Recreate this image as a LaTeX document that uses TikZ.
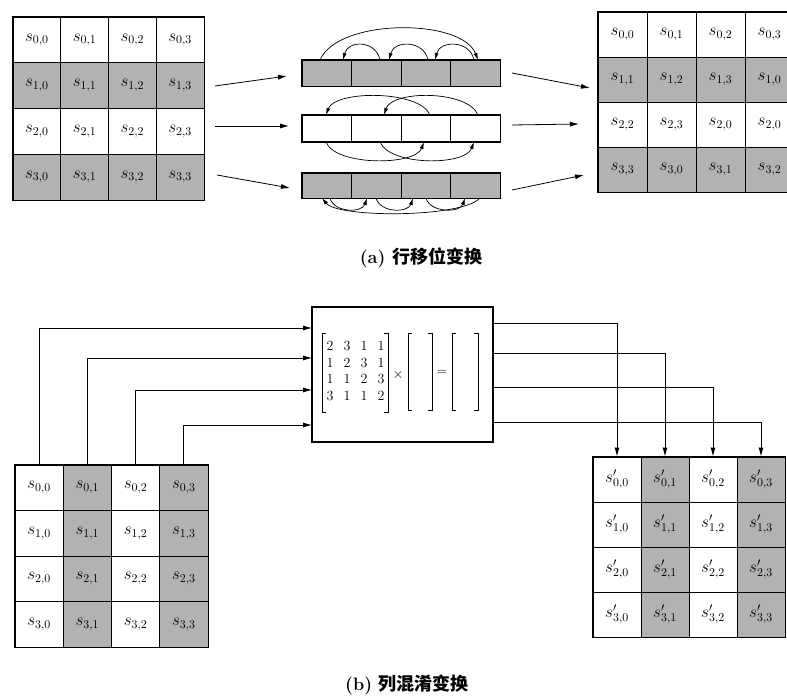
\RequirePackage{fix-cm}
\documentclass[tikz,border=0pt]{standalone}
\usepackage{fontspec}
\newfontfamily\cjk{Noto Sans CJK SC}
\usetikzlibrary{arrows.meta}
\begin{document}
\begin{tikzpicture}[x=1pt,y=-1pt,
  cellbase/.style={draw,line width=0.9pt,inner sep=0pt,font=\fontsize{17}{19}\selectfont},
  tlcell/.style={cellbase,minimum width=47.75pt,minimum height=45.75pt},
  trcell/.style={cellbase,minimum width=49pt,minimum height=45pt},
  blcell/.style={cellbase,minimum width=48.25pt,minimum height=45.5pt},
  brcell/.style={cellbase,minimum width=48pt,minimum height=45pt},
  barcell/.style={draw,line width=0.9pt,inner sep=0pt,minimum width=49.5pt,minimum height=26pt},
  outer/.style={line width=1.6pt},
  conn/.style={line width=0.8pt,-{Latex[length=9pt,width=5pt]}},
  arc/.style={line width=0.7pt,-{Latex[length=7pt,width=4pt]}},
  digit/.style={inner sep=0pt,font=\fontsize{14}{16}\selectfont},
  brk/.style={line width=0.8pt},
  caption/.style={font=\fontsize{18}{21}\selectfont\bfseries}
]
\useasboundingbox (0,0) rectangle (787,696);
\clip (0,0) rectangle (787,696);

% ---------- (a) left matrix ----------
\foreach \r in {0,...,3}{\foreach \c in {0,...,3}{
  \pgfmathtruncatemacro\g{mod(\r,2)*30}
  \node[tlcell,fill=black!\g] (tl-\r-\c) at ({13+47.75*(\c+0.5)},{17+45.75*(\r+0.5)}) {$s_{\r,\c}$};
}}
\draw[outer] (tl-0-0.north west) rectangle (tl-3-3.south east);

% ---------- (a) right matrix ----------
\foreach \r in {0,...,3}{\foreach \c in {0,...,3}{
  \pgfmathtruncatemacro\g{mod(\r,2)*30}
  \pgfmathtruncatemacro\k{(\r==2 && \c==3) ? 0 : mod(\c+\r,4)}
  \node[trcell,fill=black!\g] (tr-\r-\c) at ({598+49*(\c+0.5)},{12+45*(\r+0.5)}) {$s_{\r,\k}$};
}}
\draw[outer] (tr-0-0.north west) rectangle (tr-3-3.south east);

% ---------- bars ----------
\foreach \c in {0,...,3}{
  \node[barcell,fill=black!30] (ba-\c) at ({302+49.5*(\c+0.5)},73) {};
  \node[barcell,fill=white] (bb-\c) at ({302+49.5*(\c+0.5)},128.5) {};
  \node[barcell,fill=black!30,minimum height=25pt] (bc-\c) at ({302+49.5*(\c+0.5)},185.5) {};
}
\draw[outer] (ba-0.north west) rectangle (ba-3.south east);
\draw[outer] (bb-0.north west) rectangle (bb-3.south east);
\draw[outer] (bc-0.north west) rectangle (bc-3.south east);

% arrows matrix -> bars -> matrix
\coordinate (la1) at (215,86);  \coordinate (la2) at (287,76);
\coordinate (lb1) at (215,126); \coordinate (lb2) at (289,126);
\coordinate (lc1) at (217,175); \coordinate (lc2) at (290,188);
\coordinate (ra1) at (512,73);  \coordinate (ra2) at (590,88);
\coordinate (rb1) at (512,125); \coordinate (rb2) at (579,124);
\coordinate (rc1) at (512,190); \coordinate (rc2) at (584,175);
\draw[conn] (la1) -- (la2);
\draw[conn] (lb1) -- (lb2);
\draw[conn] (lc1) -- (lc2);
\draw[conn] (ra1) -- (ra2);
\draw[conn] (rb1) -- (rb2);
\draw[conn] (rc1) -- (rc2);

% bar 1 arcs (above)
\draw[arc] (320,60) .. controls (338,18) and (462,18) .. (478,60);
\draw[arc] (380,60) .. controls (376,40) and (348,40) .. (343,60);
\draw[arc] (428,60) .. controls (424,40) and (394,40) .. (389,60);
\draw[arc] (474,60) .. controls (470,40) and (440,40) .. (435,60);
% bar 2 arcs
\draw[arc] (430,115) .. controls (420,90) and (335,90) .. (326,115);
\draw[arc] (478,115) .. controls (468,90) and (392,90) .. (384,115);
\draw[arc] (326,142) .. controls (335,166) and (415,166) .. (424,142);
\draw[arc] (380,142) .. controls (390,166) and (465,166) .. (474,142);
% bar 3 arcs (below)
\draw[arc] (480,198) .. controls (462,218) and (338,218) .. (322,198);
\draw[arc] (330,198) .. controls (334,213) and (362,213) .. (367,198);
\draw[arc] (376,198) .. controls (380,213) and (408,213) .. (413,198);
\draw[arc] (426,198) .. controls (430,213) and (460,213) .. (465,198);

\node[caption] (capa) at (421,258) {(a) {\cjk 行移位变换}};

% ---------- (b) ----------
\node[draw,line width=1.2pt,minimum width=181pt,minimum height=135pt,inner sep=0pt] (mix) at (402.5,374.5) {};

% coefficient matrix
\foreach \r/\row in {0/{2,3,1,1},1/{1,2,3,1},2/{1,1,2,3},3/{3,1,1,2}}{
  \foreach \v [count=\c from 0] in \row {
    \node[digit] (m-\r-\c) at ({330+17*\c},{346+16.5*\r}) {$\v$};
  }
}
\draw[brk] (326,333) -- (322,333) -- (322,412) -- (326,412);
\draw[brk] (384,333) -- (388,333) -- (388,412) -- (384,412);
\node[digit] (times) at (398,375) {$\times$};
\draw[brk] (412,333) -- (408,333) -- (408,410) -- (412,410);
\draw[brk] (428,333) -- (432,333) -- (432,410) -- (428,410);
\node[digit] (eq) at (442,373) {$=$};
\draw[brk] (456,333) -- (452,333) -- (452,410) -- (456,410);
\draw[brk] (474,333) -- (478,333) -- (478,410) -- (474,410);

% bottom-left matrix
\foreach \r in {0,...,3}{\foreach \c in {0,...,3}{
  \pgfmathtruncatemacro\g{mod(\c,2)*30}
  \node[blcell,fill=black!\g] (bl-\r-\c) at ({15+48.25*(\c+0.5)},{465+45.5*(\r+0.5)}) {$s_{\r,\c}$};
}}
\draw[outer] (bl-0-0.north west) rectangle (bl-3-3.south east);

% bottom-right matrix
\foreach \r in {0,...,3}{\foreach \c in {0,...,3}{
  \pgfmathtruncatemacro\g{mod(\c,2)*30}
  \node[brcell,fill=black!\g] (br-\r-\c) at ({593+48*(\c+0.5)},{457+45*(\r+0.5)}) {$s'_{\r,\c}$};
}}
\draw[outer] (br-0-0.north west) rectangle (br-3-3.south east);

% connectors into the mix box
\foreach \c/\y in {0/328,1/358,2/390,3/425}{
  \coordinate (in\c) at (312,\y);
  \draw[conn] (bl-0-\c.north) |- (in\c);
}
% connectors out of the mix box
\foreach \c/\y in {0/323,1/353,2/387,3/422}{
  \coordinate (out\c) at (493,\y);
  \draw[conn] (out\c) -| (br-0-\c.north);
}

\node[caption] (capb) at (407,685) {(b) {\cjk 列混淆变换}};
\end{tikzpicture}
\end{document}
